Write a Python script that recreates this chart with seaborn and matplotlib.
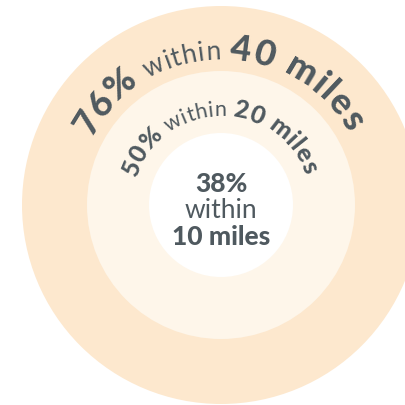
import os
import numpy as np
import matplotlib
matplotlib.use("Agg")
import matplotlib.pyplot as plt
import seaborn as sns
from matplotlib.patches import Circle
from matplotlib import font_manager as fm
from matplotlib.font_manager import FontProperties, get_font

# ---- data ----
shares = [76, 50, 38]                       # percent of people
distances = ["40 miles", "20 miles", "10 miles"]
connector = "within"

# ---- style / layout ----
ring_colors = ["#FDE8CE", "#FEF6EA", "#FFFFFF"]
ring_radii = [199, 134, 72]
text_color = "#4F595F"
DPI = 100
W = 405
CX, CY = 221, 200

sns.set_theme(style="white")
plt.rcParams["font.family"] = ["Lato", "DejaVu Sans"]

_files = {os.path.basename(f.fname): f.fname for f in fm.fontManager.ttflist}


def lato(variant, fallback_weight):
    for cand in variant:
        fn = f"Lato-{cand}.ttf"
        if fn in _files:
            return _files[fn]
    return fm.findfont(FontProperties(family="Lato", weight=fallback_weight,
                                      style="normal"))


FONT_HEAVY = lato(["Heavy", "ExtraBold", "Black", "Bold"], "heavy")
FONT_REG = lato(["Regular"], "normal")

fig = plt.figure(figsize=(W / DPI, W / DPI), dpi=DPI)
ax = fig.add_axes([0, 0, 1, 1])
ax.set_xlim(0, W)
ax.set_ylim(0, W)
ax.set_aspect("equal")
ax.axis("off")

for r, c in zip(ring_radii, ring_colors):
    ax.add_patch(Circle((CX, CY), r, facecolor=c, edgecolor="none"))


def advances(s, size_pt, fname, tracking=0.0):
    font = get_font(fname)
    font.set_size(size_pt, DPI)
    out = []
    for ch in s:
        g = font.load_char(ord(ch))
        out.append(g.linearHoriAdvance / 65536 + tracking)
    return out


def curved(segments, R, mid_deg=90.0):
    items = []
    for text, size, fname, trk in segments:
        for ch, a in zip(text, advances(text, size, fname, trk)):
            items.append((ch, a, size, fname))
    L = sum(i[1] for i in items)
    th0 = np.deg2rad(mid_deg) + L / (2 * R)
    s = 0.0
    for ch, a, size, fname in items:
        th = th0 - (s + a / 2) / R
        s += a
        if ch == " ":
            continue
        ax.text(CX + R * np.cos(th), CY + R * np.sin(th), ch,
                rotation=np.rad2deg(th) - 90, rotation_mode="anchor",
                ha="center", va="baseline",
                fontproperties=FontProperties(fname=fname, size=size),
                color=text_color)


# outer ring label
curved([(f"{shares[0]}% ", 26, FONT_HEAVY, 0.5),
        (f"{connector} ", 19, FONT_REG, 0.8),
        (distances[0], 26, FONT_HEAVY, 1.5)], R=146, mid_deg=91)

# middle ring label
curved([(f"{shares[1]}% ", 18, FONT_HEAVY, 0.3),
        (f"{connector} ", 15.5, FONT_REG, 0.3),
        (distances[1], 18, FONT_HEAVY, 0.6)], R=89, mid_deg=91)

# centre label
ax.text(CX, W - 192, f"{shares[2]}%", ha="center", va="baseline",
        fontproperties=FontProperties(fname=FONT_HEAVY, size=19),
        color=text_color)
ax.text(CX, W - 218, connector, ha="center", va="baseline",
        fontproperties=FontProperties(fname=FONT_REG, size=19),
        color=text_color)
ax.text(CX, W - 245, distances[2], ha="center", va="baseline",
        fontproperties=FontProperties(fname=FONT_HEAVY, size=19),
        color=text_color)

fig.savefig("out.png", dpi=DPI)
